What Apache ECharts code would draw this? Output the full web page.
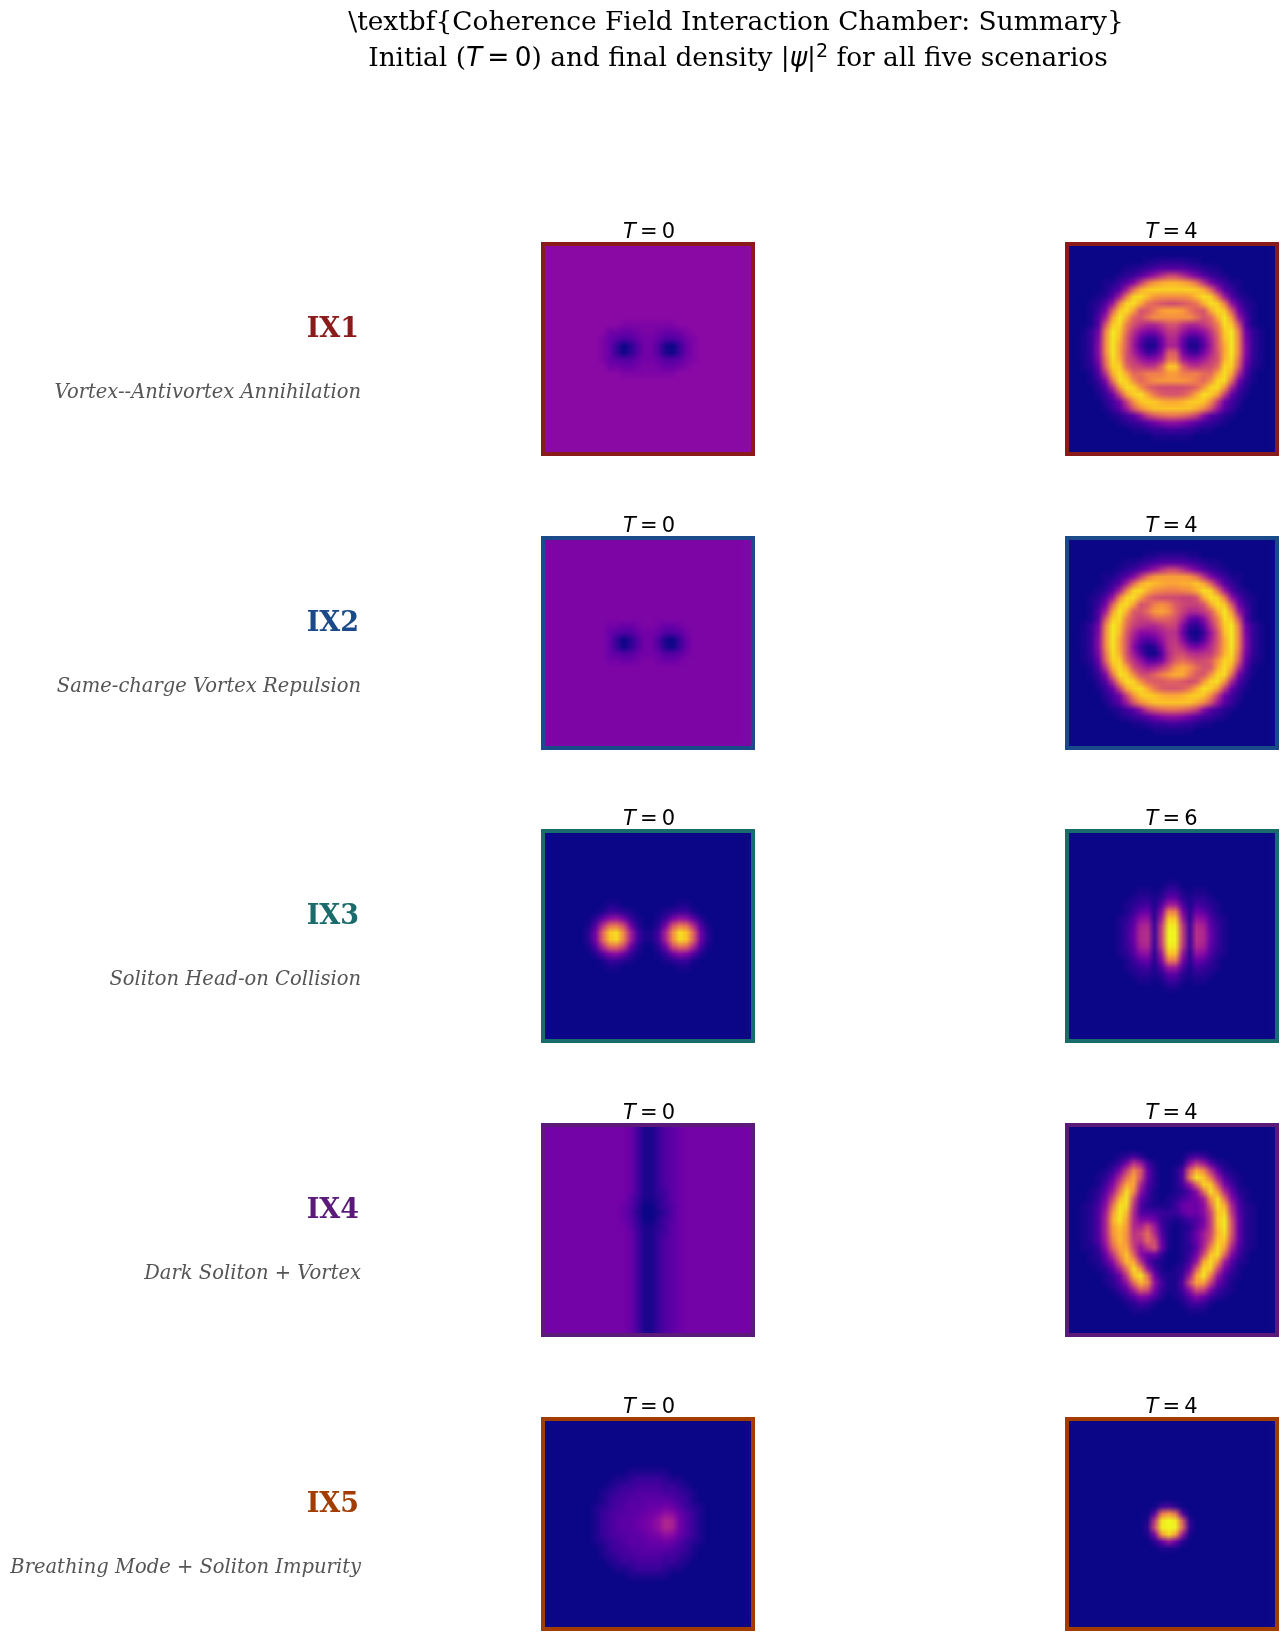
<!DOCTYPE html>
<html>
<head>
<meta charset="utf-8">
<title>Coherence Field Interaction Chamber</title>
<script src="https://cdn.jsdelivr.net/npm/echarts@6/dist/echarts.min.js"></script>
<style>
html, body { margin: 0; padding: 0; background: #fff; }
#page { position: relative; width: 1286px; height: 1640px; overflow: hidden; }
#main { position: absolute; left: 0; top: 0; width: 1286px; height: 1640px; z-index: 2; }
.panel { position: absolute; width: 210px; height: 210px; overflow: hidden; }
</style>
</head>
<body>
<div id="page"><div id="main"></div></div>
<script>
// density levels, one char per cell: 0-9 then a-z = level 0..35
var ix1_t0 = [
"aaaaaaaaaaaaaaaaaaaaaaaaaaaaaa","aaaaaaaaaaaaaaaaaaaaaaaaaaaaaa","aaaaaaaaaaaaaaaaaaaaaaaaaaaaaa","aaaaaaaaaaaaaaaaaaaaaaaaaaaaaa","aaaaaaaaaaaaaaaaaaaaaaaaaaaaaa",
"aaaaaaaaaaaaaaaaaaaaaaaaaaaaaa","aaaaaaaaaaaaaaaaaaaaaaaaaaaaaa","aaaaaaaaaaaaaaaaaaaaaaaaaaaaaa","aaaaaaaaaaaaaaaaaaaaaaaaaaaaaa","aaaaaaaaaaaaaaaaaaaaaaaaaaaaaa",
"aaaaaaaaaaaaaaaaaaaaaaaaaaaaaa",
"aaaaaaaaaaa99999999aaaaaaaaaaa",
"aaaaaaaaa887789987789aaaaaaaaa",
"aaaaaaaa97655788755689aaaaaaaa",
"aaaaaaaa97302588510379aaaaaaaa",
"aaaaaaaa97302588510379aaaaaaaa",
"aaaaaaaa97655788755689aaaaaaaa",
"aaaaaaaaa887789987789aaaaaaaaa",
"aaaaaaaaaaa99999999aaaaaaaaaaa",
"aaaaaaaaaaaaaaaaaaaaaaaaaaaaaa",
"aaaaaaaaaaaaaaaaaaaaaaaaaaaaaa","aaaaaaaaaaaaaaaaaaaaaaaaaaaaaa","aaaaaaaaaaaaaaaaaaaaaaaaaaaaaa","aaaaaaaaaaaaaaaaaaaaaaaaaaaaaa","aaaaaaaaaaaaaaaaaaaaaaaaaaaaaa",
"aaaaaaaaaaaaaaaaaaaaaaaaaaaaaa","aaaaaaaaaaaaaaaaaaaaaaaaaaaaaa","aaaaaaaaaaaaaaaaaaaaaaaaaaaaaa","aaaaaaaaaaaaaaaaaaaaaaaaaaaaaa","aaaaaaaaaaaaaaaaaaaaaaaaaaaaaa"
];
var ix1_t4 = [
"000000000000000000000000000000",
"000000000000000000000000000000",
"000000000001122221100000000000",
"000000001123455554321100000000",
"000000012358behheb853210000000",
"0000011359fmqsttsqmf9531100000",
"00000135clsvwwwwwwvslc53100000",
"0000125cnwxurqqqqruxwnc5210000",
"000125bowxtnljiijlntxwob521000",
"000138kvxsjknrssrnkjsxvk831000",
"00015crytljnqqqqqqnjltyrc51000",
"00015jvxojgeegjjgeegjoxvj51000",
"00138oyvmfb99cggc99bfmvyo83100",
"00139pyukd7338ee8337dkuyp93100",
"0013apyskc5117dd7115cksypa3100",
"0013apysjd8349kk9438djsypa3100",
"00139nxtjgcaadnndaacgjtxn93100",
"00127lwwlihfglvvlgfhilwwl72100",
"00015ftxslmooorrooomlsxtf51000",
"000139nxwploqrrrrqolpwxn931000",
"000025erxwqljiiiijlqwxre520000",
"0000137hswxsnkjjknsxwsh7310000",
"00000248hqvwvtsstvwvqh84200000",
"00000136ckqtvvvvvvtqkc63100000",
"0000001246bhkmnnmkhb6421000000",
"0000000123468abba8643210000000",
"000000000112334433211000000000",
"000000000000111111000000000000",
"000000000000000000000000000000",
"000000000000000000000000000000"
];
var ix2_t0 = [
"999999999999999999999999999999","999999999999999999999999999999","999999999999999999999999999999","999999999999999999999999999999",
"999999999999999999999999999999","999999999999999999999999999999","999999999999999999999999999999","999999999999999999999999999999",
"999999999999999999999999999999","999999999999999999999999999999","999999999999999999999999999999","999999999999999999999999999999",
"999999999887789987789999999999",
"999999999765578875568999999999",
"999999999730258851037999999999",
"999999999730258851037999999999",
"999999999765578875568999999999",
"999999999887789987789999999999",
"999999999999999999999999999999","999999999999999999999999999999","999999999999999999999999999999","999999999999999999999999999999",
"999999999999999999999999999999","999999999999999999999999999999","999999999999999999999999999999","999999999999999999999999999999",
"999999999999999999999999999999","999999999999999999999999999999","999999999999999999999999999999","999999999999999999999999999999"
];
var ix2_t4 = [
"000000000000000000000000000000",
"000000000000000000000000000000",
"000000000001122221100000000000",
"000000001123455554321100000000",
"000000012358behheb853210000000",
"0000011359fmqrrrrqmf9531100000",
"00000135clsvutssttvslc53100000",
"0000125cnwxtqpoopqtxwnc5210000",
"000125bowxsmjiiihhjsxwob521000",
"000138kvxsjkoqokihhjsxvk831000",
"00015crytkjmrsqlheegktyrc51000",
"00015jvxojhilmlje86ahoxvj51000",
"00138oyvmhfeegiha326emvyo83100",
"00139pyukeaabdff8103bjuyp93100",
"0013apysjc757bfga315cjsypa3100",
"0013apysja4128fhe98aeksypa3100",
"00139nxtjc6105eiifefgltxn93100",
"00127lwwlfb658fkmkiikqwwl72100",
"00015ftxsifcdgkqsqmjjsxtf51000",
"000139nxwpiilorttokjpwxn931000",
"000025erxwqlkkllkijqwxre520000",
"0000137hswxsnkjjknsxwsh7310000",
"00000248hqvwvtsstvwvqh84200000",
"00000136ckqtvvvvvvtqkc63100000",
"0000001246bhkmnnmkhb6421000000",
"0000000123468abba8643210000000",
"000000000112334433211000000000",
"000000000000111111000000000000",
"000000000000000000000000000000",
"000000000000000000000000000000"
];
var ix3_t0 = [
"000000000000000000000000000000","000000000000000000000000000000","000000000000000000000000000000","000000000000000000000000000000",
"000000000000000000000000000000","000000000000000000000000000000","000000000000000000000000000000","000000000000000000000000000000",
"000000000000000000000000000000","000000000000000000000000000000",
"000000000110000000011000000000",
"000000001332100001233100000000",
"000000026ab83100138ba620000000",
"00000015emni820028inme51000000",
"00000028lvxpd4114dpxvl82000000",
"00000028lvxpd4114dpxvl82000000",
"00000015emni820028inme51000000",
"000000026ab83100138ba620000000",
"000000001332100001233100000000",
"000000000110000000011000000000",
"000000000000000000000000000000","000000000000000000000000000000","000000000000000000000000000000","000000000000000000000000000000",
"000000000000000000000000000000","000000000000000000000000000000","000000000000000000000000000000","000000000000000000000000000000",
"000000000000000000000000000000","000000000000000000000000000000"
];
var ix3_t6 = [
"000000000000000000000000000000","000000000000000000000000000000","000000000000000000000000000000","000000000000000000000000000000",
"000000000000000000000000000000","000000000000000000000000000000","000000000000000000000000000000",
"000000000000001100000000000000",
"000000000011013310110000000000",
"000000000122126621221000000000",
"00000000123415cc51432100000000",
"00000000136729oo92763100000000",
"0000000125ab2cvvc2ba5210000000",
"0000000136de3gyyg3ed6310000000",
"0000000137ef3hzzh3fe7310000000",
"0000000137ef3hzzh3fe7310000000",
"0000000136de3gyyg3ed6310000000",
"0000000125ab2cvvc2ba5210000000",
"00000000136729oo92763100000000",
"00000000123415cc51432100000000",
"000000000122126621221000000000",
"000000000011013310110000000000",
"000000000000001100000000000000",
"000000000000000000000000000000","000000000000000000000000000000","000000000000000000000000000000","000000000000000000000000000000",
"000000000000000000000000000000","000000000000000000000000000000","000000000000000000000000000000"
];
var ix4_t0 = [
"888888888888741135678888888888","888888888888741135678888888888","888888888888741135678888888888","888888888888741135678888888888",
"888888888888741135678888888888","888888888888741135678888888888","888888888888741135678888888888","888888888888741135678888888888",
"888888888888741135678888888888",
"888888888888741134678888888888",
"888888888888631124678888888888",
"888888888887630024578888888888",
"888888888887520013578888888888",
"888888888887630024578888888888",
"888888888888631124678888888888",
"888888888888741134678888888888",
"888888888888741135678888888888","888888888888741135678888888888","888888888888741135678888888888","888888888888741135678888888888",
"888888888888741135678888888888","888888888888741135678888888888","888888888888741135678888888888","888888888888741135678888888888",
"888888888888741135678888888888","888888888888741135678888888888","888888888888741135678888888888","888888888888741135678888888888",
"888888888888741135678888888888","888888888888741135678888888888"
];
var ix4_t4 = [
"000000000000000000000000000000",
"000000000000000000000000000000",
"000000000000000000000000000000",
"000000000000000000000000000000",
"000000012420000003431000000000",
"000000138fc410001afc6210000000",
"00000138gpk720015kspf721000000",
"0000126dmsj720015oyvnc52100000",
"0000149isse520014blwvj94100000",
"000126cnxqb4100125amxre7210000",
"000138htyj731012468cqxma410000",
"00124amxxg521113787alxte521000",
"00125cqyue544333687ahvwg621000",
"00125dsyse9973212458gvyj721000",
"00125drvredic4101259guyk721000",
"00125dquqfhme510137chtxk721000",
"00125couqgfmi710137cjvvi721000",
"00113alsshbgk810126doxse521000",
"000127fpvla78300138huxma410000",
"000115akusf6210014brxrd6210000",
"0000126dnxpb410127jwwj94100000",
"00000137guym82113crypc52100000",
"00000125bmuqb4115issi841000000",
"000000136dlj93114bjia421000000",
"0000000136a9520126a84210000000",
"000000001243100013431000000000",
"000000000111000001110000000000",
"000000000000000000000000000000",
"000000000000000000000000000000",
"000000000000000000000000000000"
];
var ix5_t0 = [
"000000000000000000000000000000","000000000000000000000000000000","000000000000000000000000000000","000000000000000000000000000000",
"000000000000000000000000000000","000000000000000000000000000000","000000000000000000000000000000",
"000000000000111111000000000000",
"000000000011233332110000000000",
"000000000123344443321000000000",
"000000001234455554432100000000",
"000000001344556666543100000000",
"000000012345666778753210000000",
"00000001345566789ba75310000000",
"0000000134566789bed85310000000",
"0000000134566789bed85310000000",
"00000001345566789ba75310000000",
"000000012345666778753210000000",
"000000001344556666543100000000",
"000000001234455554432100000000",
"000000000123344443321000000000",
"000000000011233332110000000000",
"000000000000111111000000000000",
"000000000000000000000000000000","000000000000000000000000000000","000000000000000000000000000000","000000000000000000000000000000",
"000000000000000000000000000000","000000000000000000000000000000","000000000000000000000000000000"
];
var ix5_t4 = [
"000000000000000000000000000000","000000000000000000000000000000","000000000000000000000000000000","000000000000000000000000000000",
"000000000000000000000000000000","000000000000000000000000000000","000000000000000000000000000000","000000000000000000000000000000",
"000000000000000000000000000000","000000000000000000000000000000","000000000000000000000000000000","000000000000000000000000000000",
"000000000000034200000000000000",
"0000000000005mqm50000000000000",
"000000000001fxzyk2000000000000",
"000000000002iyzzm3000000000000",
"0000000000019rxsc1000000000000",
"00000000000027c820000000000000",
"000000000000011100000000000000",
"000000000000000000000000000000","000000000000000000000000000000","000000000000000000000000000000",
"000000000000000000000000000000","000000000000000000000000000000","000000000000000000000000000000","000000000000000000000000000000",
"000000000000000000000000000000","000000000000000000000000000000","000000000000000000000000000000","000000000000000000000000000000"
];

var scenarios = ['IX1', 'IX2', 'IX3', 'IX4', 'IX5'];
var subtitles = ['Vortex--Antivortex Annihilation', 'Same-charge Vortex Repulsion', 'Soliton Head-on Collision', 'Dark Soliton + Vortex', 'Breathing Mode + Soliton Impurity'];
var rowColors = ['#8b1a1a', '#1a4a8a', '#1a6b6b', '#5b1a7a', '#a33c00'];
var startTimes = [0, 0, 0, 0, 0];
var finalTimes = [4, 4, 6, 4, 4];
var startFields = [ix1_t0, ix2_t0, ix3_t0, ix4_t0, ix5_t0];
var finalFields = [ix1_t4, ix2_t4, ix3_t6, ix4_t4, ix5_t4];
var plasma = ['#0d0887', '#41049d', '#6a00a8', '#8f0da4', '#b12a90', '#cc4778', '#e16462', '#f2844b', '#fca636', '#fcce25', '#f0f921'];

var N = 30;
var PANEL = 210;
var colLeft = [543, 1067];
var labelShift = [-4, -5.5];
var rowTop = [244, 538, 831, 1125, 1419];

function cells(rows) {
    var out = [];
    rows.forEach(function (row, r) {
        for (var c = 0; c < row.length; c++) {
            out.push([c, r, parseInt(row[c], 36)]);
        }
    });
    return out;
}

// one cell = one canvas pixel, the browser smooths it when it scales the canvas up
function drawPanel(rows, left, top) {
    var dom = document.createElement('div');
    dom.className = 'panel';
    dom.style.left = left + 'px';
    dom.style.top = top + 'px';
    document.getElementById('page').appendChild(dom);
    var chart = echarts.init(dom, null, { devicePixelRatio: N / PANEL, width: PANEL, height: PANEL });
    var idx = [];
    for (var i = 0; i < N; i++) idx.push(i);
    chart.setOption({
        animation: false,
        grid: { left: 0, right: 0, top: 0, bottom: 0 },
        xAxis: { type: 'category', data: idx, show: false },
        yAxis: { type: 'category', data: idx, inverse: true, show: false },
        visualMap: { show: false, min: 0, max: 35, inRange: { color: plasma } },
        series: [{ type: 'heatmap', data: cells(rows), progressive: 0, silent: true }]
    });
}

function timeLabel(t, col, top) {
    return {
        text: '{t|T}{e|\u2009=\u2009' + t + '}',
        left: colLeft[col] + PANEL / 2 + labelShift[col],
        top: top - 27,
        textAlign: 'center',
        textStyle: {
            rich: {
                t: { fontFamily: 'DejaVu Sans', fontStyle: 'italic', fontWeight: 'normal', fontSize: 21, color: '#000' },
                e: { fontFamily: 'DejaVu Sans', fontWeight: 'normal', fontSize: 21, color: '#000' }
            }
        }
    };
}

var titles = [
    {
        text: '\\textbf{Coherence Field Interaction Chamber: Summary}',
        left: 731, top: 5, textAlign: 'center',
        textStyle: { fontFamily: 'DejaVu Serif', fontWeight: 'normal', fontSize: 26.4, color: '#000' }
    },
    {
        text: 'Initial ({m|T}{n|\u2009=\u20090}) and final density |{m|ψ}|{s|2} for all five scenarios',
        left: 733, top: 38, textAlign: 'center',
        textStyle: {
            fontFamily: 'DejaVu Serif', fontWeight: 'normal', fontSize: 26.4, color: '#000',
            rich: {
                m: { fontFamily: 'DejaVu Sans', fontStyle: 'italic', fontWeight: 'normal', fontSize: 26.4, color: '#000' },
                n: { fontFamily: 'DejaVu Sans', fontWeight: 'normal', fontSize: 26.4, color: '#000' },
                s: { fontFamily: 'DejaVu Sans', fontWeight: 'normal', fontSize: 19, color: '#000', verticalAlign: 'top', padding: [0, 0, 14, 0] }
            }
        }
    }
];
var frames = [];

scenarios.forEach(function (name, i) {
    var top = rowTop[i];
    titles.push({
        text: name, left: 354, top: top + 67, textAlign: 'right',
        textStyle: { fontFamily: 'DejaVu Serif', fontWeight: 'bold', fontSize: 27, color: rowColors[i] }
    });
    titles.push({
        text: subtitles[i], left: 356, top: top + 134, textAlign: 'right',
        textStyle: { fontFamily: 'DejaVu Serif', fontStyle: 'italic', fontWeight: 'normal', fontSize: 19.5, color: '#555555' }
    });
    titles.push(timeLabel(startTimes[i], 0, top));
    titles.push(timeLabel(finalTimes[i], 1, top));
    drawPanel(startFields[i], colLeft[0], top);
    drawPanel(finalFields[i], colLeft[1], top);
    colLeft.forEach(function (left) {
        frames.push({
            type: 'rect',
            shape: { x: left, y: top, width: PANEL, height: PANEL },
            style: { fill: 'none', stroke: rowColors[i], lineWidth: 4 }
        });
    });
});

var main = echarts.init(document.getElementById('main'), null, { width: 1286, height: 1640 });
main.setOption({
    animation: false,
    backgroundColor: 'transparent',
    title: titles,
    graphic: frames
});
</script>
</body>
</html>
